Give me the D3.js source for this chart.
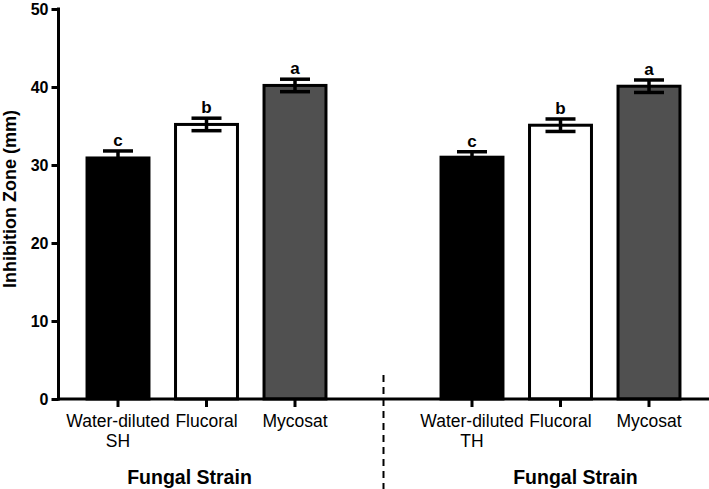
<!DOCTYPE html>
<html>
<head>
<meta charset="utf-8">
<script src="https://cdn.jsdelivr.net/npm/d3@7"></script>
<style>
  body { margin: 0; background: #fff; }
  svg { display: block; font-family: Arial, "Liberation Sans", sans-serif; }
</style>
</head>
<body>
<script>
// chart data
var strains = ["SH", "TH"];
var treatments = ["Water-diluted", "Flucoral", "Mycosat"];
var meansSH = [30.9, 35.2, 40.2];
var errSH = [0.9, 0.8, 0.8];
var meansTH = [31.0, 35.1, 40.1];
var errTH = [0.7, 0.8, 0.8];
var letters = ["c", "b", "a"];
var yTicks = [0, 10, 20, 30, 40, 50];
var fills = ["#000000", "#ffffff", "#505050"];

var svgWidth = 709;
var svgHeight = 489;

var svg = d3.select("body")
  .append("svg")
  .attr("width", svgWidth)
  .attr("height", svgHeight);

// build the bar list, with an empty slot between the two strains
var bars = [];
strains.forEach(function (s, si) {
  var means = si === 0 ? meansSH : meansTH;
  var errs = si === 0 ? errSH : errTH;
  treatments.forEach(function (t, ti) {
    bars.push({ key: s + "|" + t, strain: s, treatment: t, idx: ti,
      mean: means[ti], err: errs[ti], letter: letters[ti] });
  });
});
var slots = bars.slice(0, 3).map(d => d.key).concat(["gap"]).concat(bars.slice(3).map(d => d.key));

var x = d3.scaleBand()
  .domain(slots)
  .range([58, 709])
  .paddingInner(0.3)
  .paddingOuter(0.328);

var y = d3.scaleLinear()
  .domain([0, 50])
  .range([399, 9]);

// bars
svg.selectAll("rect.bar")
  .data(bars)
  .enter()
  .append("rect")
  .attr("class", "bar")
  .attr("x", d => x(d.key))
  .attr("y", d => y(d.mean))
  .attr("width", x.bandwidth())
  .attr("height", d => y(0) - y(d.mean))
  .attr("fill", d => fills[d.idx])
  .attr("stroke", "#000")
  .attr("stroke-width", 3);

// error bars
var capW = 30;
var eb = svg.selectAll("g.err")
  .data(bars)
  .enter()
  .append("g")
  .attr("class", "err")
  .attr("stroke", "#000")
  .attr("stroke-width", 3.5);

eb.append("line")
  .attr("x1", d => x(d.key) + x.bandwidth() / 2)
  .attr("x2", d => x(d.key) + x.bandwidth() / 2)
  .attr("y1", d => y(d.mean + d.err))
  .attr("y2", d => y(d.mean - d.err));
eb.append("line")
  .attr("x1", d => x(d.key) + x.bandwidth() / 2 - capW / 2)
  .attr("x2", d => x(d.key) + x.bandwidth() / 2 + capW / 2)
  .attr("y1", d => y(d.mean + d.err))
  .attr("y2", d => y(d.mean + d.err));
eb.append("line")
  .attr("x1", d => x(d.key) + x.bandwidth() / 2 - capW / 2)
  .attr("x2", d => x(d.key) + x.bandwidth() / 2 + capW / 2)
  .attr("y1", d => y(d.mean - d.err))
  .attr("y2", d => y(d.mean - d.err));

// significance letters
svg.selectAll("text.letter")
  .data(bars)
  .enter()
  .append("text")
  .attr("class", "letter")
  .attr("x", d => x(d.key) + x.bandwidth() / 2)
  .attr("y", d => y(d.mean + d.err) - 5)
  .attr("text-anchor", "middle")
  .style("font-weight", "bold")
  .style("font-size", "17px")
  .text(d => d.letter);

// y axis
var leftAxis = d3.axisLeft(y)
  .tickValues(yTicks)
  .tickSize(7)
  .tickSizeOuter(0)
  .tickPadding(3);

var yAxisG = svg.append("g")
  .attr("transform", "translate(58.5,0)")
  .call(leftAxis);
yAxisG.select(".domain").attr("stroke-width", 3).attr("d", "M0," + (y(0) + 1.5) + "V" + (y(50) - 1.5));
yAxisG.selectAll(".tick line").attr("stroke-width", 3);
yAxisG.selectAll(".tick text")
  .style("font-size", "16px")
  .style("font-weight", "bold")
  .attr("fill", "#000");

// x axis line and ticks
svg.append("line")
  .attr("x1", 57)
  .attr("x2", 709)
  .attr("y1", y(0))
  .attr("y2", y(0))
  .attr("stroke", "#000")
  .attr("stroke-width", 3);

svg.selectAll("line.xtick")
  .data(bars)
  .enter()
  .append("line")
  .attr("class", "xtick")
  .attr("x1", d => x(d.key) + x.bandwidth() / 2)
  .attr("x2", d => x(d.key) + x.bandwidth() / 2)
  .attr("y1", y(0))
  .attr("y2", y(0) + 8)
  .attr("stroke", "#000")
  .attr("stroke-width", 3);

// x tick labels
var xl = svg.selectAll("text.xlab")
  .data(bars)
  .enter()
  .append("text")
  .attr("class", "xlab")
  .attr("x", d => x(d.key) + x.bandwidth() / 2)
  .attr("y", 427)
  .attr("text-anchor", "middle")
  .style("font-size", "17.5px");
xl.append("tspan").text(d => d.treatment);
xl.filter(d => d.idx === 0)
  .append("tspan")
  .attr("x", d => x(d.key) + x.bandwidth() / 2)
  .attr("dy", 20)
  .text(d => d.strain);

// group titles
var gap = x("gap") + x.bandwidth() / 2;
var groupX = [x(bars[1].key) + x.bandwidth() / 2 - 17, x(bars[4].key) + x.bandwidth() / 2 + 15];
svg.selectAll("text.group")
  .data(strains)
  .enter()
  .append("text")
  .attr("class", "group")
  .attr("x", (d, i) => groupX[i])
  .attr("y", 484)
  .attr("text-anchor", "middle")
  .style("font-size", "19.5px")
  .style("font-weight", "bold")
  .text("Fungal Strain");

// dashed divider
svg.append("line")
  .attr("x1", gap)
  .attr("x2", gap)
  .attr("y1", 375)
  .attr("y2", 489)
  .attr("stroke", "#000")
  .attr("stroke-width", 2)
  .attr("stroke-dasharray", "7,5");

// y axis title
svg.append("text")
  .attr("transform", "translate(16,199) rotate(-90)")
  .attr("text-anchor", "middle")
  .style("font-size", "18px")
  .style("font-weight", "bold")
  .text("Inhibition Zone  (mm)");
</script>
</body>
</html>
